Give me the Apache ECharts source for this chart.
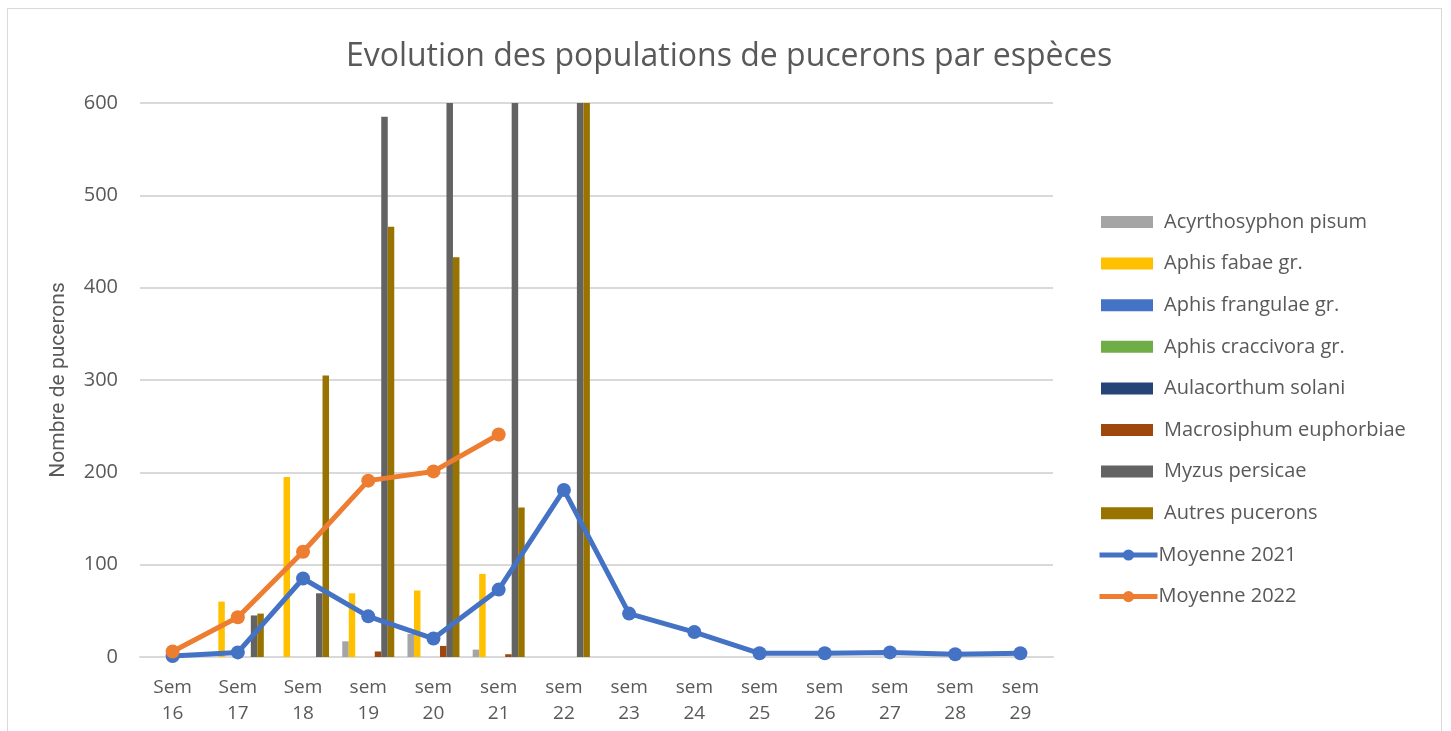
<!DOCTYPE html>
<html lang="fr">
<head>
  <meta charset="UTF-8">
  <title>pucerons</title>
  <script src="https://cdn.jsdelivr.net/npm/echarts@6/dist/echarts.min.js"></script>
  <style>
    body{ margin:0; background:#fff; }
    #chart{ width:1451px; height:731px; }
    #frame{ position:absolute; left:7px; top:8px; width:1433px; height:740px; border:1px solid #d9d9d9; pointer-events:none; }
  </style>
</head>
<body>
  <div id="chart"></div>
  <div id="frame"></div>
  <script>
    var weeks = ['Sem\n16','Sem\n17','Sem\n18','sem\n19','sem\n20','sem\n21','sem\n22','sem\n23','sem\n24','sem\n25','sem\n26','sem\n27','sem\n28','sem\n29']

    var acyrthosyphon = [0, 0, 0, 17, 25, 8, 0]
    var fabae         = [0, 60, 195, 69, 72, 90, 0]
    var frangulae     = [0, 0, 0, 0, 0, 0, 0]
    var craccivora    = [0, 0, 0, 0, 0, 0, 0]
    var aulacorthum   = [0, 0, 0, 0, 0, 0, 0]
    var macrosiphum   = [0, 0, 0, 6, 12, 3, 0]
    var myzus         = [0, 45, 69, 585, 760, 780, 820]
    var autres        = [0, 47, 305, 466, 433, 162, 900]

    var moy2021 = [1, 5, 85, 44, 20, 73, 181, 47, 27, 4, 4, 5, 3, 4]
    var moy2022 = [6, 43, 114, 191, 201, 241]

    var barNames = ['Acyrthosyphon pisum','Aphis fabae gr.','Aphis frangulae gr.','Aphis craccivora gr.','Aulacorthum solani','Macrosiphum euphorbiae','Myzus persicae','Autres pucerons']
    var barData = [acyrthosyphon, fabae, frangulae, craccivora, aulacorthum, macrosiphum, myzus, autres]
    var barColors = ['#a5a5a5','#ffc000','#4472c4','#70ad47','#264478','#9e480e','#636363','#997300']

    var txt = '#595959'
    var font = 'Open Sans'

    var series = barNames.map(function (name, i) {
      return {
        name: name,
        type: 'bar',
        data: barData[i],
        barWidth: 6.5,
        barGap: '0%',
        itemStyle: { color: barColors[i] }
      }
    })
    series.push({
      name: 'Moyenne 2021',
      type: 'line',
      data: moy2021,
      symbol: 'circle',
      symbolSize: 14,
      lineStyle: { width: 5, color: '#4472c4' },
      itemStyle: { color: '#4472c4' },
      z: 5
    })
    series.push({
      name: 'Moyenne 2022',
      type: 'line',
      data: moy2022,
      symbol: 'circle',
      symbolSize: 14,
      lineStyle: { width: 5, color: '#ed7d31' },
      itemStyle: { color: '#ed7d31' },
      z: 6
    })

    var myChart = echarts.init(document.getElementById('chart'))
    var option = {
      animation: false,
      title: {
        text: 'Evolution des populations de pucerons par espèces',
        left: 724,
        top: 36,
        textAlign: 'center',
        textStyle: { color: txt, fontSize: 32, fontWeight: 'normal', fontFamily: font }
      },
      legend: [
        {
          data: barNames,
          orient: 'vertical',
          left: 1096,
          top: 207,
          itemWidth: 52,
          itemHeight: 12,
          itemGap: 21.6,
          icon: 'rect',
          textStyle: { color: txt, fontSize: 20, fontFamily: font, padding: [0, 0, 0, 6] }
        },
        {
          data: ['Moyenne 2021', 'Moyenne 2022'],
          orient: 'vertical',
          left: 1092,
          top: 540,
          itemWidth: 58,
          itemHeight: 14,
          itemGap: 21.6,
          lineStyle: { width: 5 },
          textStyle: { color: txt, fontSize: 20, fontFamily: font, padding: [0, 0, 0, -4] }
        }
      ],
      grid: {
        left: 140,
        right: 398,
        top: 103,
        bottom: 74,
        containLabel: false
      },
      xAxis: {
        type: 'category',
        data: weeks,
        axisLine: { lineStyle: { color: '#d9d9d9', width: 2 } },
        axisTick: { show: false },
        axisLabel: { color: txt, fontSize: 19, fontFamily: font, lineHeight: 26, margin: 18 }
      },
      yAxis: {
        type: 'value',
        min: 0,
        max: 600,
        interval: 100,
        name: 'Nombre de pucerons',
        nameLocation: 'middle',
        nameGap: 71,
        nameTextStyle: { color: txt, fontSize: 21, fontFamily: 'Roboto' },
        axisLabel: { color: txt, fontSize: 20, fontFamily: font, margin: 22 },
        splitLine: { lineStyle: { color: '#d9d9d9', width: 2 } }
      },
      series: series
    }
    myChart.setOption(option)
  </script>
</body>
</html>
